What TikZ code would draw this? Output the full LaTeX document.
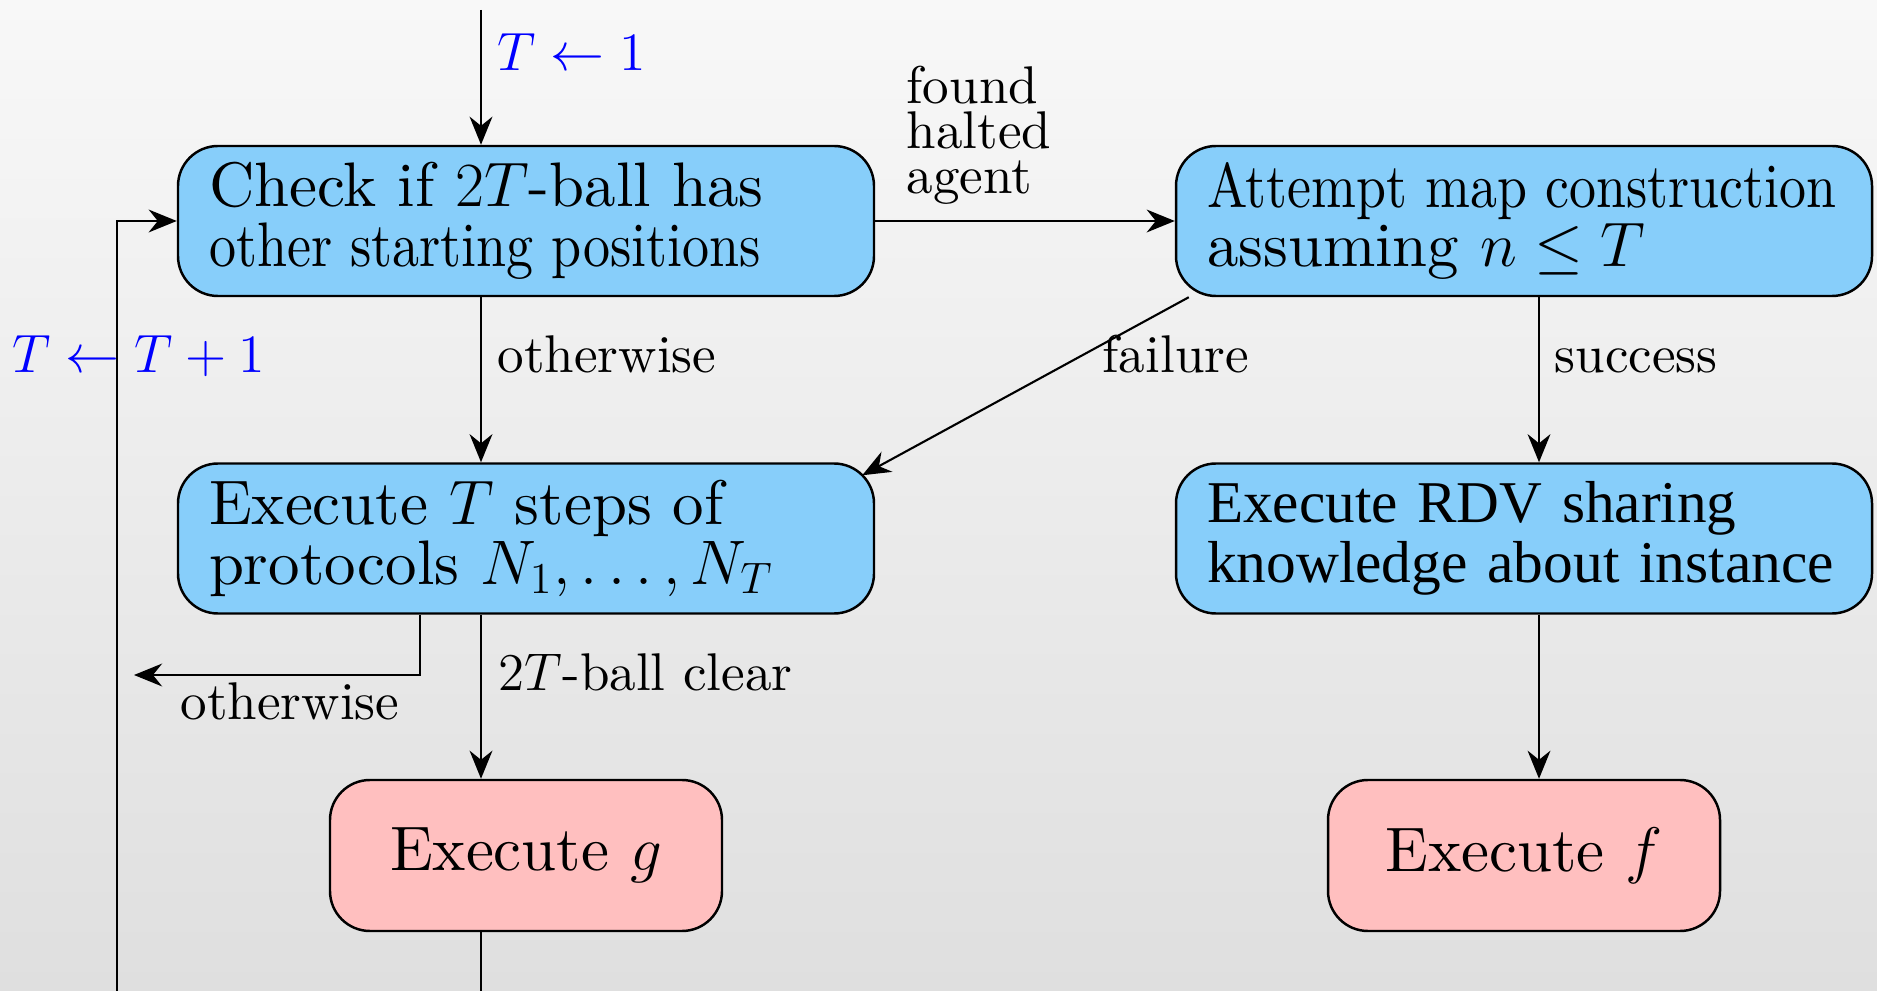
\RequirePackage{fix-cm}
\documentclass[tikz,border=0pt]{standalone}
\usepackage{fontspec}
\usepackage{graphicx}
\usetikzlibrary{arrows.meta}
\newfontfamily\lmtenfam{lmroman10-regular.otf}
\newfontfamily\timesfam{Liberation Serif}
\definecolor{boxblue}{RGB}{135,206,250}
\definecolor{boxpink}{RGB}{255,191,191}
\definecolor{bgtop}{RGB}{248,248,248}
\definecolor{bgbot}{RGB}{223,223,223}
\definecolor{bluel}{RGB}{0,0,255}
\newcommand{\boxfont}{\lmtenfam\fontsize{17.9pt}{16.9pt}\selectfont}
\newcommand{\rdvfont}{\timesfam\fontsize{16.85pt}{17.2pt}\selectfont}
\newcommand{\labfont}{\lmtenfam\fontsize{15.1pt}{12.9pt}\selectfont}
\newcommand{\setfont}{\lmtenfam\fontsize{15.35pt}{13pt}\selectfont}
\begin{document}
\begin{tikzpicture}[
        bluebox/.style = {draw, line width=0.7pt, fill=boxblue, rounded corners=0.4cm,
                          minimum width=6.96cm, minimum height=1.5cm, text width=6.34cm,
                          inner xsep=0.31cm, align=left, font=\boxfont},
        pinkbox/.style = {draw, line width=0.7pt, fill=boxpink, rounded corners=0.4cm,
                          minimum width=3.92cm, minimum height=1.51cm, align=center, font=\boxfont},
        lab/.style = {inner sep=0, font=\labfont},
        setlab/.style = {inner sep=0, font=\setfont, text=bluel},
        arr/.style = {-{Stealth[length=8pt,width=6.5pt]}, line width=0.6pt}]
                    \useasboundingbox (0,0) rectangle (18.77,-9.91);
                    \clip (0,0) rectangle (18.77,-9.91);
                    \shade[top color=bgtop, bottom color=bgbot] (0,0) rectangle (18.77,-9.91);
                    \node[bluebox] (check) at (5.26,-2.21)
                        {Check if $2T$-ball has\\ \resizebox{5.52cm}{\height}{other starting positions}};
                    \node[bluebox] (attempt) at (15.24,-2.21)
                        {\resizebox{6.29cm}{\height}{Attempt map construction}\\ assuming $n \leq T$};
                    \node[bluebox] (steps) at (5.26,-5.385) {Execute $T$ steps of\\ protocols $N_1, \ldots, N_T$};
                    \node[bluebox, font=\rdvfont] (rdv) at (15.24,-5.385)
                        {Execute RDV sharing\\ \resizebox{6.27cm}{\height}{knowledge about instance}};
                    \node[pinkbox] (execg) at (5.26,-8.555) {Execute $g$};
                    \node[pinkbox] (execf) at (15.24,-8.555) {Execute $f$};
                    \coordinate (entry) at (4.81,-0.10);
                    \coordinate (otherend) at (1.34,-6.75);
                    \coordinate (loopcorner) at (1.17,-10.4);
                    \draw[arr] (entry) -- ([xshift=-0.45cm]check.north);
                    \draw[arr] (check.east) -- (attempt.west);
                    \draw[arr] ([xshift=-0.45cm]check.south) -- ([xshift=-0.45cm]steps.north);
                    \draw[arr] ([xshift=0.15cm]attempt.south) -- ([xshift=0.15cm]rdv.north);
                    \draw[arr] ([xshift=0.14cm]attempt.south west) -- ([xshift=-0.13cm,yshift=-0.13cm]steps.north east);
                    \draw[arr] ([xshift=-0.45cm]steps.south) -- ([xshift=-0.45cm]execg.north);
                    \draw[arr] ([xshift=0.15cm]rdv.south) -- ([xshift=0.15cm]execf.north);
                    \draw[arr] ([xshift=-1.06cm]steps.south) |- (otherend);
                    \draw[arr] ([xshift=-0.45cm]execg.south) |- (loopcorner) |- (check.west);
                    \node[setlab, anchor=base west] (init) at (4.97,-0.707) {$T \leftarrow 1$};
                    \node[setlab, anchor=base west] (incr) at (0.12,-3.727) {$T \leftarrow T+1$};
                    \node[lab, align=left, anchor=north west] (found) at (9.06,-0.65) {found\\ halted\\ agent};
                    \node[lab, anchor=base west] (oth1) at (4.97,-3.727) {otherwise};
                    \node[lab, anchor=base west] (fail) at (11.02,-3.727) {failure};
                    \node[lab, anchor=base west] (succ) at (15.54,-3.727) {success};
                    \node[lab, anchor=base west] (clear) at (4.98,-6.907) {$2T$-ball clear};
                    \node[lab, anchor=base west] (oth2) at (1.80,-7.193) {otherwise};
\end{tikzpicture}
\end{document}
